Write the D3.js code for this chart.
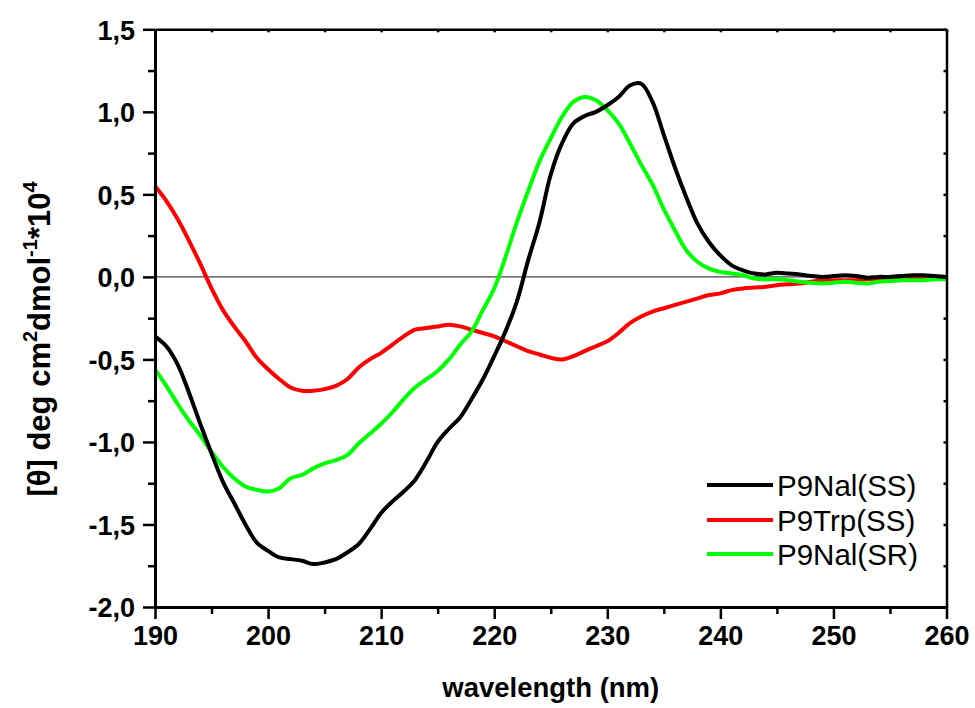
<!DOCTYPE html>
<html lang="en">
<head>
    <meta charset="UTF-8">
    <title>CD spectra</title>
    <style>
        body { margin: 0; background: #fff; }
        text { font-family: Arial, "Liberation Sans", sans-serif; }
    </style>
</head>
<body>
<script src="https://d3js.org/d3.v7.min.js"></script>
<script>
    // wavelength grid (nm), one reading per nm
    var wavelength = d3.range(190, 261);

    // values, [theta] * 10^-4
    var p9nalSS = [
        -0.36, -0.42, -0.53, -0.70, -0.89, -1.07, -1.24, -1.37, -1.50, -1.61,
        -1.66, -1.70, -1.71, -1.72, -1.74, -1.73, -1.71, -1.67, -1.62, -1.53,
        -1.43, -1.36, -1.30, -1.23, -1.12, -1.00, -0.92, -0.85, -0.74, -0.62,
        -0.48, -0.33, -0.15, 0.10, 0.33, 0.62, 0.81, 0.93, 0.975, 1.00,
        1.04, 1.09, 1.16, 1.17, 1.06, 0.86, 0.66, 0.48, 0.32, 0.21,
        0.13, 0.07, 0.04, 0.02, 0.015, 0.025, 0.02, 0.015, 0.005, 0.0,
        0.005, 0.01, 0.005, -0.005, 0.0, 0.0, 0.005, 0.01, 0.01, 0.005,
        0.0
    ];
    var p9trpSS = [
        0.55, 0.46, 0.35, 0.22, 0.08, -0.07, -0.20, -0.30, -0.39, -0.49,
        -0.56, -0.62, -0.67, -0.69, -0.69, -0.68, -0.66, -0.62, -0.55, -0.50,
        -0.46, -0.41, -0.36, -0.32, -0.31, -0.30, -0.29, -0.30, -0.32, -0.34,
        -0.36, -0.39, -0.42, -0.45, -0.47, -0.49, -0.50, -0.48, -0.45, -0.42,
        -0.39, -0.34, -0.28, -0.24, -0.21, -0.19, -0.17, -0.15, -0.13, -0.11,
        -0.10, -0.08, -0.07, -0.065, -0.06, -0.05, -0.045, -0.04, -0.03, -0.02,
        -0.02, -0.02, -0.02, -0.015, -0.01, -0.01, -0.01, -0.005, -0.005, 0.0,
        0.0
    ];
    var p9nalSR = [
        -0.56, -0.66, -0.77, -0.87, -0.96, -1.06, -1.15, -1.22, -1.27, -1.29,
        -1.30, -1.28, -1.22, -1.20, -1.16, -1.13, -1.11, -1.08, -1.01, -0.95,
        -0.89, -0.82, -0.74, -0.67, -0.62, -0.57, -0.50, -0.41, -0.33, -0.20,
        -0.07, 0.12, 0.33, 0.52, 0.70, 0.84, 0.97, 1.06, 1.09, 1.07,
        1.01, 0.93, 0.81, 0.68, 0.56, 0.41, 0.28, 0.16, 0.09, 0.05,
        0.03, 0.02, 0.01, -0.01, -0.015, -0.015, -0.02, -0.03, -0.035, -0.04,
        -0.035, -0.03, -0.035, -0.04, -0.03, -0.025, -0.02, -0.02, -0.02, -0.015,
        -0.015
    ];

    var seriesNames = ["P9Nal(SS)", "P9Trp(SS)", "P9Nal(SR)"];
    var seriesColors = ["#000000", "#ff0000", "#00ff00"];
    var seriesValues = [p9nalSS, p9trpSS, p9nalSR];

    var xMajor = [190, 200, 210, 220, 230, 240, 250, 260];
    var yMajor = [-2.0, -1.5, -1.0, -0.5, 0.0, 0.5, 1.0, 1.5];

    var W = 975, H = 708;
    var plotL = 155, plotR = 946.5, plotT = 29.3, plotB = 607;

    var svg = d3.select("body")
                .append("svg")
                .attr("width", W)
                .attr("height", H);

    var x = d3.scaleLinear().domain([190, 260]).range([plotL, plotR]);
    var y = d3.scaleLinear().domain([-2.0, 1.5]).range([plotB, plotT]);

    // comma as decimal mark, plain hyphen as minus
    var loc = d3.formatLocale({decimal: ",", thousands: ".", grouping: [3], currency: ["", ""], minus: "-"});
    var fmt = loc.format(".1f");

    var xMinor = d3.range(195, 260, 10);
    var yMinor = d3.range(-1.75, 1.5, 0.5);
    var xAll = d3.range(190, 261, 5);
    var yAll = d3.range(-2.0, 1.51, 0.25);

    // zero line
    svg.append("line")
        .attr("x1", x(190)).attr("x2", x(260))
        .attr("y1", y(0)).attr("y2", y(0))
        .attr("stroke", "#444")
        .attr("stroke-width", 1.2);

    // curves
    var line = d3.line()
        .x(function (d) { return x(d[0]); })
        .y(function (d) { return y(d[1]); })
        .curve(d3.curveCatmullRom.alpha(0.5));

    // red first, then green, black on top where they cross
    [1, 2, 0].forEach(function (k) {
        var pts = wavelength.map(function (w, i) { return [w, seriesValues[k][i]]; });
        svg.append("path")
            .attr("d", line(pts))
            .attr("fill", "none")
            .attr("stroke", seriesColors[k])
            .attr("stroke-width", 4)
            .attr("stroke-linejoin", "round");
    });

    // frame axes
    function styleAxis(g, w) {
        g.select(".domain").attr("stroke", "#000").attr("stroke-width", w);
        g.selectAll(".tick line").attr("stroke", "#000").attr("stroke-width", 2.5);
        g.selectAll(".tick text")
            .attr("fill", "#000")
            .style("font-size", "27px")
            .style("font-weight", "bold");
    }

    var gx = svg.append("g")
        .attr("transform", "translate(0," + plotB + ")")
        .call(d3.axisBottom(x).tickValues(xMajor).tickSize(12).tickPadding(7).tickSizeOuter(0).tickFormat(d3.format("d")));
    styleAxis(gx, 3);

    var gxm = svg.append("g")
        .attr("transform", "translate(0," + plotB + ")")
        .call(d3.axisBottom(x).tickValues(xMinor).tickSize(7).tickSizeOuter(0).tickFormat(""));
    styleAxis(gxm, 3);

    var gy = svg.append("g")
        .attr("transform", "translate(" + plotL + ",0)")
        .call(d3.axisLeft(y).tickValues(yMajor).tickSize(12).tickPadding(8).tickSizeOuter(0).tickFormat(fmt));
    styleAxis(gy, 3);
    gy.selectAll(".tick text").attr("dy", "0.36em");

    var gym = svg.append("g")
        .attr("transform", "translate(" + plotL + ",0)")
        .call(d3.axisLeft(y).tickValues(yMinor).tickSize(7).tickSizeOuter(0).tickFormat(""));
    styleAxis(gym, 3);

    var gt = svg.append("g")
        .attr("transform", "translate(0," + plotT + ")")
        .call(d3.axisBottom(x).tickValues(xAll).tickSize(3).tickSizeOuter(0).tickFormat(""));
    styleAxis(gt, 2.5);

    var gr = svg.append("g")
        .attr("transform", "translate(" + plotR + ",0)")
        .call(d3.axisLeft(y).tickValues(yAll).tickSize(3).tickSizeOuter(0).tickFormat(""));
    styleAxis(gr, 2.5);

    // axis titles
    svg.append("text")
        .attr("x", (plotL + plotR) / 2)
        .attr("y", 697)
        .attr("text-anchor", "middle")
        .style("font-size", "27.5px")
        .style("font-weight", "bold")
        .text("wavelength (nm)");

    var yt = svg.append("text")
        .attr("transform", "translate(50,339) rotate(-90)")
        .attr("text-anchor", "middle")
        .style("font-size", "31px")
        .style("font-weight", "bold");
    yt.append("tspan").text("[\u03B8] deg cm");
    yt.append("tspan").attr("dy", -13).style("font-size", "20px").text("2");
    yt.append("tspan").attr("dy", 13).text("dmol");
    yt.append("tspan").attr("dy", -13).style("font-size", "20px").text("-1");
    yt.append("tspan").attr("dy", 13).text("*10");
    yt.append("tspan").attr("dy", -13).style("font-size", "20px").text("4");

    // legend
    var legendY = [485, 520, 554];
    seriesNames.forEach(function (name, i) {
        svg.append("line")
            .attr("x1", 707).attr("x2", 773)
            .attr("y1", legendY[i]).attr("y2", legendY[i])
            .attr("stroke", seriesColors[i])
            .attr("stroke-width", 4);
        svg.append("text")
            .attr("x", 777)
            .attr("y", legendY[i])
            .attr("dy", "0.36em")
            .style("font-size", "29.5px")
            .text(name);
    });
</script>
</body>
</html>
